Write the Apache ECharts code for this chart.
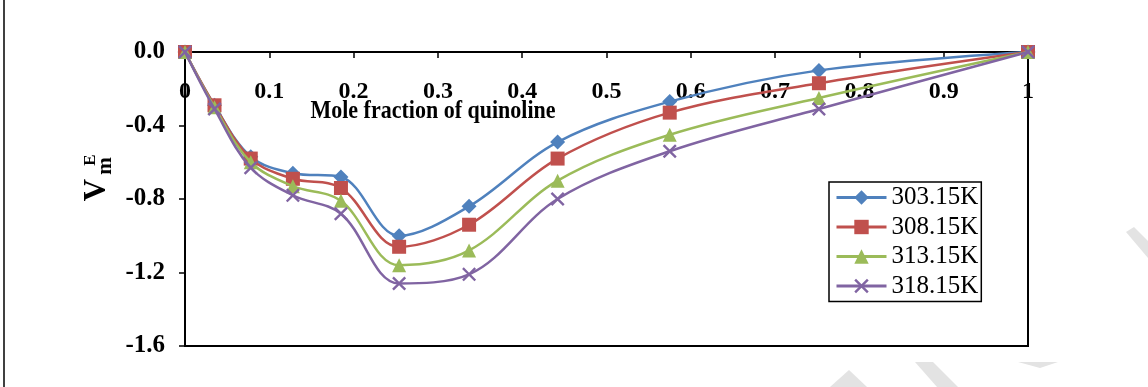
<!DOCTYPE html>
<html>
<head>
<meta charset="utf-8">
<script src="https://cdn.jsdelivr.net/npm/echarts@6/dist/echarts.min.js"></script>
<style>
html,body{margin:0;padding:0;background:#fff;}
#chart{width:1148px;height:387px;}
</style>
</head>
<body>
<div id="chart"></div>
<script>
// ---- data ----
const moleFraction = [0, 0.035, 0.078, 0.128, 0.185, 0.254, 0.337, 0.442, 0.575, 0.752, 1];
const v303 = [0, -0.29, -0.57, -0.66, -0.68, -1.00, -0.84, -0.49, -0.27, -0.10, 0];
const v308 = [0, -0.29, -0.58, -0.69, -0.74, -1.06, -0.94, -0.58, -0.33, -0.17, 0];
const v313 = [0, -0.30, -0.60, -0.73, -0.81, -1.16, -1.08, -0.70, -0.45, -0.25, 0];
const v318 = [0, -0.31, -0.63, -0.78, -0.88, -1.26, -1.21, -0.80, -0.54, -0.31, 0];
const seriesNames = ['303.15K', '308.15K', '313.15K', '318.15K'];
const xAxisTitle = 'Mole fraction of quinoline';

// ---- styling ----
const colors = ['#4F81BD', '#C0504D', '#9BBB59', '#8064A2'];
const symbols = ['diamond', 'rect', 'triangle',
  'path://M0,1.2L1.2,0L5,3.8L8.8,0L10,1.2L6.2,5L10,8.8L8.8,10L5,6.2L1.2,10L0,8.8L3.8,5Z'];
const symbolSizes = [15, 14, 14, 14];
const allValues = [v303, v308, v313, v318];
const serif = '"Liberation Serif","Times New Roman",serif';

const series = allValues.map((vals, i) => ({
  name: seriesNames[i],
  type: 'line',
  data: moleFraction.map((x, k) => [x, vals[k]]),
  smooth: 0.35,
  symbol: symbols[i],
  symbolSize: symbolSizes[i],
  showAllSymbol: true,
  clip: false,
  lineStyle: { color: colors[i], width: 2.5 },
  itemStyle: { color: colors[i] },
  z: 3 + i
}));

const chart = echarts.init(document.getElementById('chart'));
chart.setOption({
  animation: false,
  backgroundColor: '#fff',
  grid: {
    left: 185, right: 120, top: 52, bottom: 41,
    show: true, borderColor: '#000', borderWidth: 2, backgroundColor: 'transparent'
  },
  xAxis: {
    type: 'value',
    position: 'top',
    min: 0, max: 1, interval: 0.1,
    axisLine: { show: true, onZero: false, lineStyle: { color: '#000', width: 2 } },
    axisTick: { show: true, inside: true, length: 6, lineStyle: { color: '#000', width: 1.5 } },
    axisLabel: {
      inside: true, margin: 28, color: '#000',
      fontFamily: serif, fontWeight: 'bold', fontSize: 24,
      formatter: v => (v === 0 ? '0' : v === 1 ? '1' : v.toFixed(1))
    },
    splitLine: { show: false }
  },
  yAxis: {
    type: 'value',
    min: -1.6, max: 0, interval: 0.4,
    axisLine: { show: true, lineStyle: { color: '#000', width: 2 } },
    axisTick: { show: true, length: 6, lineStyle: { color: '#000', width: 1.5 } },
    axisLabel: {
      margin: 20, color: '#000',
      fontFamily: serif, fontWeight: 'bold', fontSize: 25,
      formatter: v => v.toFixed(1)
    },
    splitLine: { show: false }
  },
  legend: {
    orient: 'vertical',
    left: 829, top: 182,
    data: seriesNames,
    itemWidth: 50, itemHeight: 18, itemGap: 4.5,
    padding: [3, 3, 3, 6],
    borderColor: '#000', borderWidth: 1.5,
    backgroundColor: '#fff',
    lineStyle: { width: 3 },
    textStyle: { fontFamily: serif, fontSize: 25, color: '#000', lineHeight: 24 }
  },
  graphic: [
    { type: 'line', shape: { x1: 4, y1: 0, x2: 4, y2: 387 }, style: { stroke: '#000', lineWidth: 1.5 }, silent: true },
    { type: 'text', x: 433, y: 112, scaleX: 0.88,
      style: { text: xAxisTitle, font: 'bold 25px ' + serif, fill: '#000', align: 'center', verticalAlign: 'middle' } },
    { type: 'text', x: 97, y: 190, rotation: Math.PI / 2,
      style: { text: 'V', font: 'bold 31px ' + serif, fill: '#000', align: 'center', verticalAlign: 'middle' } },
    { type: 'text', x: 106, y: 166, rotation: Math.PI / 2,
      style: { text: 'm', font: 'bold 21px ' + serif, fill: '#000', align: 'center', verticalAlign: 'middle' } },
    { type: 'text', x: 91, y: 160, rotation: Math.PI / 2,
      style: { text: 'E', font: 'bold 17px ' + serif, fill: '#000', align: 'center', verticalAlign: 'middle' } },
    { type: 'polygon', shape: { points: [[1126, 232], [1134, 227], [1148, 241], [1148, 258]] }, style: { fill: '#e3e3e3' }, silent: true, z: -1 },
    { type: 'polygon', shape: { points: [[830, 387], [849, 370], [867, 387]] }, style: { fill: '#e3e3e3' }, silent: true, z: -1 },
    { type: 'polygon', shape: { points: [[915, 362], [933, 362], [958, 387], [937, 387]] }, style: { fill: '#e3e3e3' }, silent: true, z: -1 },
    { type: 'polygon', shape: { points: [[1018, 362], [1058, 362], [1040, 368]] }, style: { fill: '#e3e3e3' }, silent: true, z: -1 }
  ],
  series: series
});
</script>
</body>
</html>
